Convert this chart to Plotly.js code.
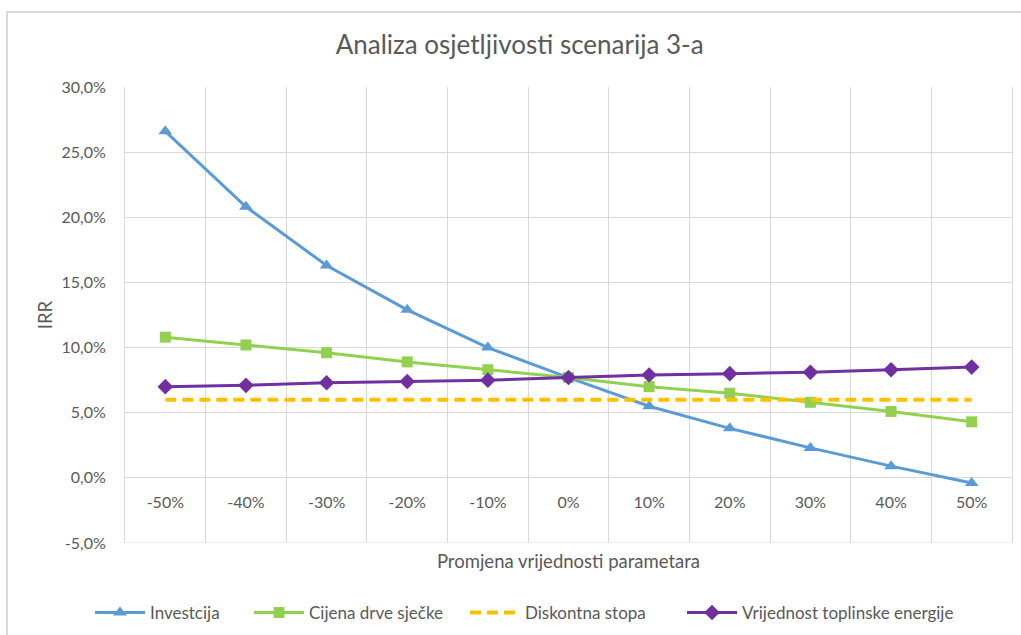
<!DOCTYPE html>
<html>
<head>
<meta charset="utf-8">
<script src="https://cdn.plot.ly/plotly-3.0.1.min.js"></script>
<style>
html,body{margin:0;padding:0;background:#fff;overflow:hidden;width:1021px;height:635px;}
#frame{position:absolute;left:6px;top:11px;width:1100px;height:700px;border:2px solid #D9D9D9;box-sizing:border-box;}
#chart{position:absolute;left:0;top:0;width:1021px;height:635px;}
</style>
</head>
<body>
<div id="frame"></div>
<div id="chart"></div>
<script>
// Data
const categories = ["-50%","-40%","-30%","-20%","-10%","0%","10%","20%","30%","40%","50%"];
const investicija = [26.6, 20.8, 16.3, 12.9, 10.0, 7.7, 5.5, 3.8, 2.3, 0.9, -0.4];
const cijenaSjecke = [10.8, 10.2, 9.6, 8.9, 8.3, 7.7, 7.0, 6.5, 5.8, 5.1, 4.3];
const diskontnaStopa = [6.0, 6.0, 6.0, 6.0, 6.0, 6.0, 6.0, 6.0, 6.0, 6.0, 6.0];
const toplinskaEnergija = [7.0, 7.1, 7.3, 7.4, 7.5, 7.7, 7.9, 8.0, 8.1, 8.3, 8.5];
const seriesNames = ["Investcija", "Cijena drve sječke", "Diskontna stopa", "Vrijednost toplinske energije"];
const yTickVals = [-5, 0, 5, 10, 15, 20, 25, 30];
const yTickLabels = ["-5,0%", "0,0%", "5,0%", "10,0%", "15,0%", "20,0%", "25,0%", "30,0%"];

const txt = '#595959';
const grid = '#D9D9D9';
const fam = 'Lato, "Open Sans", sans-serif';

const traces = [
  {x: categories, y: investicija, name: seriesNames[0], type: 'scatter', mode: 'lines+markers', legend: 'legend',
   line: {color: '#5B9BD5', width: 3}, marker: {symbol: 'triangle-up', size: 12, color: '#5B9BD5'}},
  {x: categories, y: cijenaSjecke, name: seriesNames[1], type: 'scatter', mode: 'lines+markers', legend: 'legend2',
   line: {color: '#92D050', width: 3}, marker: {symbol: 'square', size: 11, color: '#92D050'}},
  {x: categories, y: diskontnaStopa, name: seriesNames[2], type: 'scatter', mode: 'lines', legend: 'legend3',
   line: {color: '#FFC000', width: 4, dash: '11px,6px'}},
  {x: categories, y: toplinskaEnergija, name: seriesNames[3], type: 'scatter', mode: 'lines+markers', legend: 'legend4',
   line: {color: '#7030A0', width: 3}, marker: {symbol: 'diamond', size: 12, color: '#7030A0'}}
];

function leg(px) {
  return {orientation: 'h', xref: 'container', yref: 'container', x: px / 1021, xanchor: 'left',
          y: 1 - 613 / 635, yanchor: 'middle', font: {family: fam, size: 17, color: txt},
          itemwidth: 50, bgcolor: 'rgba(0,0,0,0)'};
}

const layout = {
  width: 1021, height: 635,
  paper_bgcolor: 'rgba(0,0,0,0)', plot_bgcolor: 'rgba(0,0,0,0)',
  margin: {l: 125, r: 9, t: 87, b: 92, pad: 0},
  separators: ',.',
  font: {family: fam, color: txt, size: 16},
  title: {text: 'Analiza osjetljivosti scenarija 3-a', font: {family: fam, size: 26, color: txt},
          xref: 'container', x: 0.509, xanchor: 'center', yref: 'container', y: 1 - 45/635, yanchor: 'middle'},
  showlegend: true,
  legend: leg(90), legend2: leg(249), legend3: leg(465), legend4: leg(682),
  shapes: [
    {type: 'line', xref: 'paper', yref: 'y', x0: 0, x1: 1, y0: -5, y1: -5, line: {color: grid, width: 1}, layer: 'below'}
  ],
  xaxis: {
    type: 'category', range: [-0.5, 10.5], tickson: 'boundaries',
    showgrid: true, gridcolor: grid, gridwidth: 1,
    anchor: 'free', position: 5/35, showline: false, zeroline: false,
    ticks: '', ticklabelstandoff: 13,
    tickfont: {family: fam, size: 16, color: txt},
    title: {text: 'Promjena vrijednosti parametara', font: {family: fam, size: 18.5, color: txt}, standoff: 45},
    fixedrange: true
  },
  yaxis: {
    range: [-5, 30], tickmode: 'array', tickvals: yTickVals, ticktext: yTickLabels,
    showgrid: true, gridcolor: grid, gridwidth: 1,
    zeroline: true, zerolinecolor: grid, zerolinewidth: 1,
    showline: true, linecolor: grid, linewidth: 1, mirror: true,
    ticks: '', ticklabelstandoff: 15,
    tickfont: {family: fam, size: 16, color: txt},
    title: {text: 'IRR', font: {family: fam, size: 18.5, color: txt}, standoff: 4},
    fixedrange: true
  }
};

Plotly.newPlot('chart', traces, layout, {staticPlot: true, displayModeBar: false});
</script>
</body>
</html>
